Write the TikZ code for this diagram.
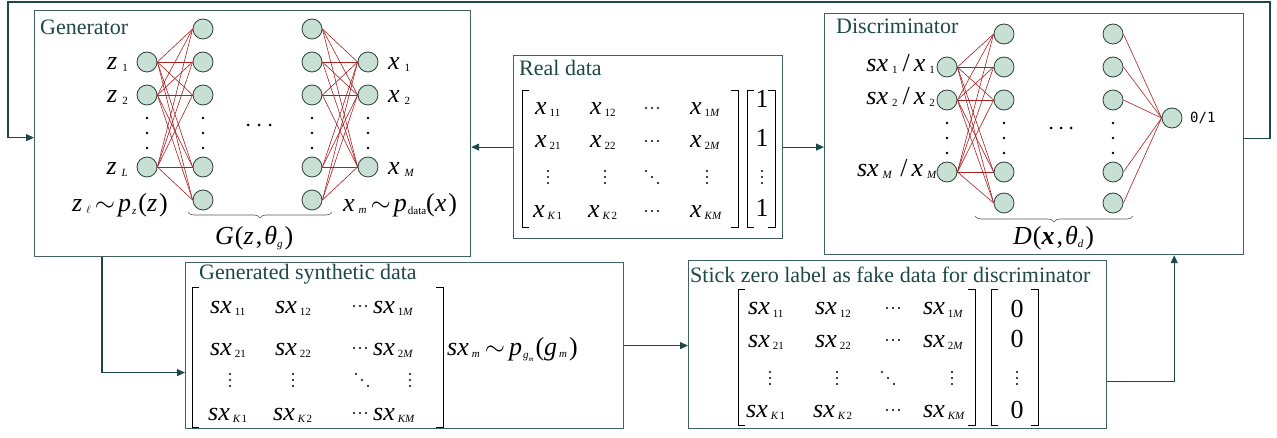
\documentclass[tikz,border=0pt]{standalone}
\usepackage{fix-cm}
\usepackage{fontspec}
\setmainfont{Liberation Serif}
\newfontfamily\monof{DejaVu Sans Mono}
\usetikzlibrary{arrows.meta,decorations.pathreplacing}
\definecolor{boxc}{RGB}{64,98,98}
\definecolor{arrc}{RGB}{28,72,72}
\definecolor{titc}{RGB}{30,72,72}
\definecolor{nfill}{RGB}{200,224,212}
\definecolor{ndraw}{RGB}{45,65,60}
\definecolor{edgec}{RGB}{172,32,32}
\newcommand\Mf{\fontsize{26}{26}\selectfont}
\newcommand\Sf{\fontsize{11}{11}\selectfont}
\newcommand\ent[2]{\textit{#1}\kern3pt\raisebox{-2pt}{\Sf #2}}
\newcommand\E[4]{\node[entry] (#1) at (#2,#3) {#4};}
\newcommand\hd[2]{\foreach \k in {-1,0,1}{\fill ({#1+6*\k},{#2}) circle (1.1pt);}}
\newcommand\vd[2]{\foreach \k in {-1,0,1}{\fill ({#1},{#2+6*\k}) circle (1.1pt);}}
\newcommand\dd[2]{\foreach \k in {-1,0,1}{\fill ({#1+6*\k},{#2+6*\k}) circle (1.1pt);}}
\begin{document}
\begin{tikzpicture}[x=1pt,y=-1pt,
 box/.style={draw=boxc,line width=1.2pt,fill=white,anchor=north west,inner sep=0},
 neuron/.style={circle,minimum size=20pt,inner sep=0,fill=nfill,draw=ndraw,line width=0.8pt},
 nedge/.style={draw=edgec,line width=0.6pt},
 conn/.style={draw=arrc,line width=1.1pt},
 arr/.style={conn,-{Triangle[length=8pt,width=7pt]}},
 title/.style={anchor=base west,inner sep=0,text=titc,font=\fontsize{22}{22}\selectfont},
 lab/.style={inner sep=0,font=\Mf},
 entry/.style={anchor=base west,inner sep=0,font=\Mf},
 one/.style={anchor=base,inner sep=0,font=\fontsize{26}{26}\selectfont},
 brk/.style={draw=black,line width=0.9pt},
 brace/.style={draw=black!65,line width=0.6pt,decorate,decoration={brace,amplitude=6pt,mirror}}
]
\useasboundingbox (0,0) rectangle (1277,438);

% boxes
\node[box,minimum width=436pt,minimum height=246pt] (gen) at (34,10) {};
\node[box,minimum width=419pt,minimum height=241pt] (disc) at (824,13) {};
\node[box,minimum width=269pt,minimum height=183pt] (real) at (513,55) {};
\node[box,minimum width=438pt,minimum height=166pt] (synth) at (185,262) {};
\node[box,minimum width=418pt,minimum height=168pt] (stick) at (688,260) {};

% connectors
\coordinate (lpR) at (1270,2);
\coordinate (lpL) at (8,2);
\draw[arr] ([yshift=-4pt]disc.east) -| (lpR) -- (lpL) |- ([yshift=-4pt]gen.west);
\draw[arr] (real.west) -- (real.west -| gen.east);
\draw[arr] (real.east) -- (real.east -| disc.west);
\draw[arr] ([xshift=68pt]gen.south west) |- ([yshift=-27pt]synth.west);
\draw[arr] (synth.east) -- (synth.east -| stick.west);
\draw[arr] ([yshift=-37pt]stick.east) -| ([xshift=-70pt]disc.south east);

% titles
\node[title] (tgen) at (40,35) {Generator};
\node[title] (tdisc) at (836,34) {Discriminator};
\node[title] (treal) at (519,76) {Real data};
\node[title] (tsyn) at (199,280) {Generated synthetic data};
\node[title] (tstk) at (690,283) {Stick zero label as fake data for discriminator};

% generator network
\foreach \j/\y in {1/29,2/62,3/95,4/167,5/200}{
  \node[neuron] (gA\j) at (203,\y) {};
  \node[neuron] (gB\j) at (312,\y) {};}
\foreach \i/\y in {1/62,2/95,3/167}{
  \node[neuron] (gi\i) at (147,\y) {};
  \node[neuron] (go\i) at (368,\y) {};}
\foreach \i in {1,2,3}{\foreach \j in {1,...,5}{
  \draw[nedge] (gi\i.east) -- (gA\j.west);
  \draw[nedge] (gB\j.east) -- (go\i.west);}}
\foreach \x in {147,203,312,368}{\foreach \y in {118,133,148}{\fill (\x,\y) circle (1.4pt);}}
\foreach \x in {248,259,270}{\fill (\x,125) circle (1.5pt);}
\draw[brace] (188,212) -- (332,212);

\node[lab,anchor=base east] (lz1) at (128,70) {\textit{z}\kern5pt\raisebox{-2pt}{\Sf 1}};
\node[lab,anchor=base east] (lz2) at (128,103) {\textit{z}\kern5pt\raisebox{-2pt}{\Sf 2}};
\node[lab,anchor=base east] (lzL) at (128,175) {\textit{z}\kern5pt\raisebox{-2pt}{\Sf\textit{L}}};
\node[lab,anchor=base west] (lzd) at (72,212) {\textit{z}\kern4pt\raisebox{-2pt}{\Sf$\ell$}\kern4pt$\sim$\kern3pt\textit{p}\kern1pt\raisebox{-3pt}{\Sf\textit{z}}\kern2pt(\textit{z}\kern2pt)};
\node[lab,anchor=base west] (lx1) at (388,70) {\textit{x}\kern5pt\raisebox{-2pt}{\Sf 1}};
\node[lab,anchor=base west] (lx2) at (388,103) {\textit{x}\kern5pt\raisebox{-2pt}{\Sf 2}};
\node[lab,anchor=base west] (lxM) at (388,175) {\textit{x}\kern5pt\raisebox{-2pt}{\Sf\textit{M}}};
\node[lab,anchor=base west] (lxd) at (343,212) {\textit{x}\kern4pt\raisebox{-2pt}{\Sf\textit{m}}\kern4pt$\sim$\kern3pt\textit{p}\kern1pt\raisebox{-3pt}{\Sf data}(\textit{x}\kern2pt)};
\node[lab,anchor=base west] (lG) at (215,245) {\textit{G}\kern1pt(\textit{z}\kern2pt,\kern2pt\textit{θ}\raisebox{-3pt}{\Sf\textit{g}}\kern2pt)};

% discriminator network
\foreach \j/\y in {1/34,2/67,3/100,4/172,5/203}{
  \node[neuron] (dA\j) at (1004,\y) {};
  \node[neuron] (dB\j) at (1113,\y) {};}
\foreach \i/\y in {1/67,2/100,3/172}{\node[neuron] (di\i) at (947,\y) {};}
\node[neuron] (dout) at (1172,118) {};
\foreach \i in {1,2,3}{\foreach \j in {1,...,5}{\draw[nedge] (di\i.east) -- (dA\j.west);}}
\foreach \j in {1,...,5}{\draw[nedge] (dB\j.east) -- (dout.west);}
\foreach \x in {947,1004,1113}{\foreach \y in {123,138,153}{\fill (\x,\y) circle (1.4pt);}}
\foreach \x in {1051,1061,1071}{\fill (\x,128) circle (1.5pt);}
\draw[brace] (975,216) -- (1133,216);
\node[anchor=west,inner sep=0,font=\monof\fontsize{14}{14}\selectfont] (l01) at (1190,118) {0/1};
\node[lab,anchor=base east] (ls1) at (935,72) {\textit{sx}\kern4pt\raisebox{-2pt}{\Sf 1}\kern5pt/\kern4pt\textit{x}\kern4pt\raisebox{-2pt}{\Sf 1}};
\node[lab,anchor=base east] (ls2) at (935,105) {\textit{sx}\kern4pt\raisebox{-2pt}{\Sf 2}\kern5pt/\kern4pt\textit{x}\kern4pt\raisebox{-2pt}{\Sf 2}};
\node[lab,anchor=base east] (lsM) at (937,177) {\textit{sx}\kern4pt\raisebox{-2pt}{\Sf\textit{M}}\kern8pt/\kern4pt\textit{x}\kern4pt\raisebox{-2pt}{\Sf\textit{M}}};
\node[lab,anchor=base west] (lD) at (1013,245) {\textit{D}\kern1pt(\textbf{\textit{x}}\kern2pt,\kern2pt\textit{θ}\raisebox{-3pt}{\Sf\textit{d}}\kern2pt)};

% real data matrix
\draw[brk] (529,90) -- (522,90) -- (522,227) -- (529,227);
\draw[brk] (731,90) -- (738,90) -- (738,227) -- (731,227);
\draw[brk] (754,90) -- (747,90) -- (747,227) -- (754,227);
\draw[brk] (768,90) -- (775,90) -- (775,227) -- (768,227);
\E{r11}{535}{115}{\ent{x}{11}}
\E{r12}{590}{115}{\ent{x}{12}}
\E{r1M}{690}{115}{\ent{x}{1\textit{M}}}
\E{r21}{535}{148}{\ent{x}{21}}
\E{r22}{590}{148}{\ent{x}{22}}
\E{r2M}{690}{148}{\ent{x}{2\textit{M}}}
\E{rK1}{533}{218}{\ent{x}{\textit{K}\kern1pt1}}
\E{rK2}{588}{218}{\ent{x}{\textit{K}\kern1pt2}}
\E{rKM}{690}{218}{\ent{x}{\textit{KM}}}
\hd{652}{108} \hd{652}{141} \hd{652}{211}
\vd{548}{177} \vd{605}{177} \dd{652}{177} \vd{707}{177}
\node[one] (v1) at (762,108) {1};
\node[one] (v2) at (762,147) {1};
\node[one] (v4) at (762,217) {1};
\vd{762}{177}

% generated synthetic data matrix
\draw[brk] (199,287) -- (192,287) -- (192,427) -- (199,427);
\draw[brk] (436,287) -- (443,287) -- (443,427) -- (436,427);
\E{g11}{210}{313}{\ent{sx}{11}}
\E{g12}{275}{313}{\ent{sx}{12}}
\E{g1M}{373}{313}{\ent{sx}{1\textit{M}}}
\E{g21}{210}{355}{\ent{sx}{21}}
\E{g22}{275}{355}{\ent{sx}{22}}
\E{g2M}{373}{355}{\ent{sx}{2\textit{M}}}
\E{gK1}{208}{420}{\ent{sx}{\textit{K}\kern1pt1}}
\E{gK2}{273}{420}{\ent{sx}{\textit{K}\kern1pt2}}
\E{gKM}{373}{420}{\ent{sx}{\textit{KM}}}
\hd{360}{306} \hd{360}{348} \hd{360}{413}
\vd{230}{380} \vd{293}{380} \dd{362}{380} \vd{410}{380}
\node[entry] (lsx) at (447,355) {\textit{sx}\kern3pt\raisebox{-2pt}{\Sf\textit{m}}\kern5pt$\sim$\kern4pt\textit{p}\kern1pt\raisebox{-4pt}{\Sf\textit{g}\raisebox{-2pt}{\fontsize{7}{7}\selectfont\textit{m}}}\kern2pt(\textit{g}\kern2pt\raisebox{-2pt}{\Sf\textit{m}}\kern2pt)};

% stick zero label matrix
\draw[brk] (745,289) -- (738,289) -- (738,425) -- (745,425);
\draw[brk] (968,289) -- (975,289) -- (975,425) -- (968,425);
\draw[brk] (998,289) -- (991,289) -- (991,425) -- (998,425);
\draw[brk] (1031,289) -- (1038,289) -- (1038,425) -- (1031,425);
\E{s11}{748}{315}{\ent{sx}{11}}
\E{s12}{815}{315}{\ent{sx}{12}}
\E{s1M}{923}{315}{\ent{sx}{1\textit{M}}}
\E{s21}{748}{347}{\ent{sx}{21}}
\E{s22}{815}{347}{\ent{sx}{22}}
\E{s2M}{923}{347}{\ent{sx}{2\textit{M}}}
\E{sK1}{746}{417}{\ent{sx}{\textit{K}\kern1pt1}}
\E{sK2}{813}{417}{\ent{sx}{\textit{K}\kern1pt2}}
\E{sKM}{923}{417}{\ent{sx}{\textit{KM}}}
\hd{893}{308} \hd{893}{340} \hd{893}{410}
\vd{770}{378} \vd{837}{378} \dd{888}{378} \vd{952}{378}
\node[one] (z1) at (1017,317) {0};
\node[one] (z2) at (1017,347) {0};
\node[one] (z4) at (1017,418) {0};
\vd{1017}{378}
\end{tikzpicture}
\end{document}
